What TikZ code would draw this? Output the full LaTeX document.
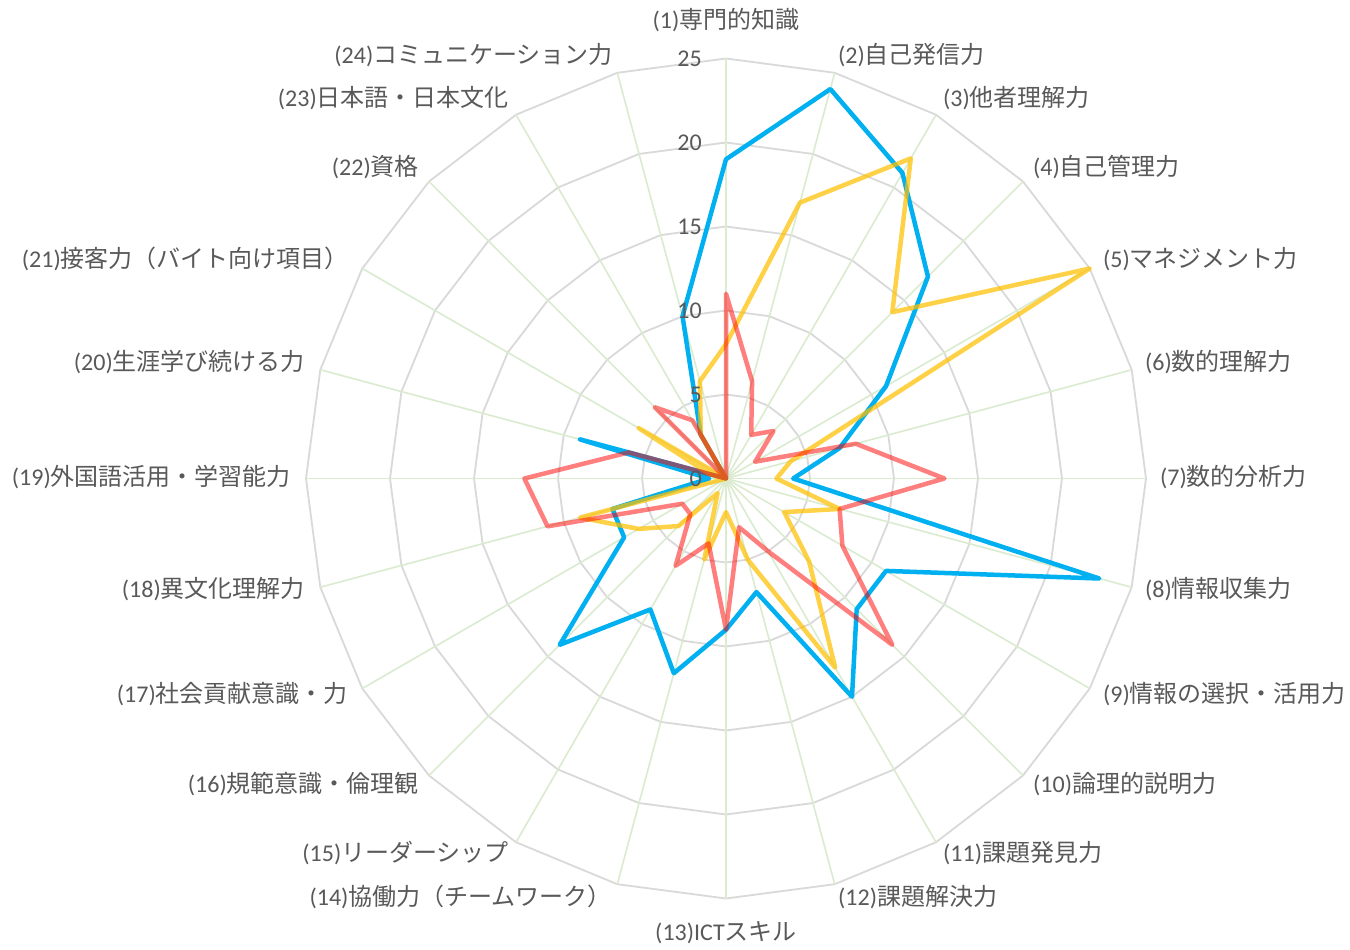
\documentclass[tikz,border=0pt]{standalone}
\usepackage{fontspec}
\setmainfont{Carlito}
\newfontfamily\jp{Noto Sans CJK JP}
\definecolor{lblc}{HTML}{595959}
\definecolor{gridc}{HTML}{D9D9D9}
\definecolor{spokec}{HTML}{DAEBCF}
\definecolor{bluec}{HTML}{00B0F0}
\definecolor{yelc}{HTML}{FFC000}
\definecolor{redc}{HTML}{FF0000}
\newcommand\lbl[2]{#1{\jp #2}}
\begin{document}
\begin{tikzpicture}[x=1pt,y=-1pt,
  lab/.style={text=lblc,font=\fontsize{24}{28}\selectfont,inner sep=0pt},
  ring/.style={draw=gridc,line width=1.8pt},
  spoke/.style={draw=spokec,line width=1.6pt},
  serblue/.style={draw=bluec,line width=4.5pt,line join=round},
  seryel/.style={draw=yelc,draw opacity=0.72,line width=4.5pt,line join=round},
  serred/.style={draw=redc,draw opacity=0.5,line width=4.5pt,line join=round}]
\useasboundingbox[fill=white] (0,0) rectangle (1350,950);
\begin{scope}[shift={(726,478.5)}]
  \coordinate (O) at (0,0);
  % rings
  \foreach \r in {84,168,252,336,420}
    \draw[ring] (-90:\r) \foreach \i in {1,...,23} { -- ({15*\i-90}:\r) } -- cycle;
  % spokes
  \foreach \i in {0,...,23}
    \draw[spoke] (O) -- ({15*\i-90}:420);
  % series
  \draw[serblue] (-90:{19*16.8})
    \foreach \v [count=\i from 1] in {24,21,17,11,7,4,23,11,11,15,7,9,12,9,14,7,7,1,9,0,0,3,10}
      { -- ({15*\i-90}:{\v*16.8}) } -- cycle;
  \draw[seryel] (-90:{8*16.8})
    \foreach \v [count=\i from 1] in {17,22,14,25,4,3,7,4,7,13,5,2,5,1,4,6,9,0,1,6,0,3,6}
      { -- ({15*\i-90}:{\v*16.8}) } -- cycle;
  \draw[serred] (-90:{11*16.8})
    \foreach \v [count=\i from 1] in {6,3,4,2,8,13,7,8,14,5,3,9,4,6,3,3,11,12,6,0,6,4,0}
      { -- ({15*\i-90}:{\v*16.8}) } -- cycle;
  % tick labels
  \foreach \v/\r in {0/0,5/84,10/168,15/252,20/336,25/420}
    \node[lab,anchor=east] (t\v) at (-24,-\r) {\v};
\end{scope}
% category labels
\node[lab,anchor=center] (c1) at (726,20) {\lbl{(1)}{専門的知識}};
\node[lab,anchor=west] (c2) at (838,55) {\lbl{(2)}{自己発信力}};
\node[lab,anchor=west] (c3) at (943,98) {\lbl{(3)}{他者理解力}};
\node[lab,anchor=west] (c4) at (1033,167) {\lbl{(4)}{自己管理力}};
\node[lab,anchor=west] (c5) at (1103,259) {\lbl{(5)}{マネジメント力}};
\node[lab,anchor=west] (c6) at (1145,362) {\lbl{(6)}{数的理解力}};
\node[lab,anchor=west] (c7) at (1160,477) {\lbl{(7)}{数的分析力}};
\node[lab,anchor=west] (c8) at (1145,589) {\lbl{(8)}{情報収集力}};
\node[lab,anchor=west] (c9) at (1103,694) {\lbl{(9)}{情報の選択・活用力}};
\node[lab,anchor=west] (c10) at (1033,784) {\lbl{(10)}{論理的説明力}};
\node[lab,anchor=west] (c11) at (943,853) {\lbl{(11)}{課題発見力}};
\node[lab,anchor=west] (c12) at (838,897) {\lbl{(12)}{課題解決力}};
\node[lab,anchor=center] (c13) at (726,933) {\lbl{(13)ICT}{スキル}};
\node[lab,anchor=east] (c14) at (612,897) {\lbl{(14)}{協働力（チームワーク）}};
\node[lab,anchor=east] (c15) at (509,853) {\lbl{(15)}{リーダーシップ}};
\node[lab,anchor=east] (c16) at (419,784) {\lbl{(16)}{規範意識・倫理観}};
\node[lab,anchor=east] (c17) at (348,694) {\lbl{(17)}{社会貢献意識・力}};
\node[lab,anchor=east] (c18) at (305,589) {\lbl{(18)}{異文化理解力}};
\node[lab,anchor=east] (c19) at (291,477) {\lbl{(19)}{外国語活用・学習能力}};
\node[lab,anchor=east] (c20) at (305,362) {\lbl{(20)}{生涯学び続ける力}};
\node[lab,anchor=east] (c21) at (349,259) {\lbl{(21)}{接客力（バイト向け項目）}};
\node[lab,anchor=east] (c22) at (419,167) {\lbl{(22)}{資格}};
\node[lab,anchor=east] (c23) at (509,98) {\lbl{(23)}{日本語・日本文化}};
\node[lab,anchor=east] (c24) at (613,55) {\lbl{(24)}{コミュニケーション力}};
\end{tikzpicture}
\end{document}
